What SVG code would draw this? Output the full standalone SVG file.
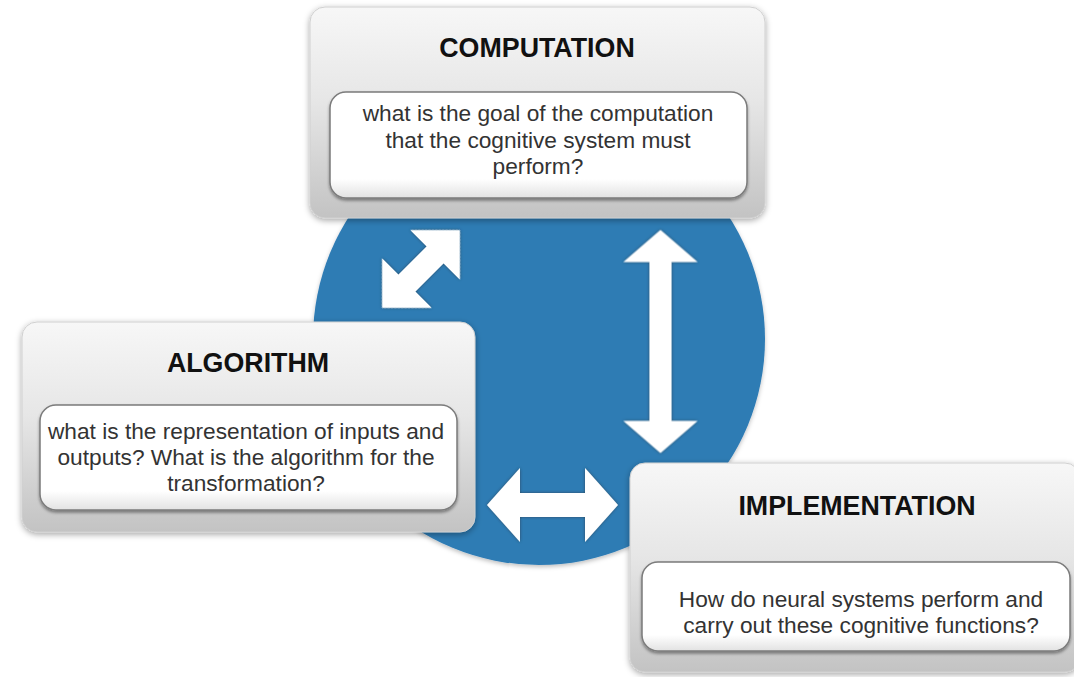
<svg xmlns="http://www.w3.org/2000/svg" width="1074" height="677" viewBox="0 0 1074 677">
  <defs>
    <linearGradient id="panelFill" x1="0" y1="0" x2="0" y2="1">
      <stop offset="0" stop-color="#f7f7f7"/>
      <stop offset="0.45" stop-color="#e6e6e6"/>
      <stop offset="1" stop-color="#c3c3c3"/>
    </linearGradient>
    <linearGradient id="cardFill" x1="0" y1="0" x2="0" y2="1">
      <stop offset="0" stop-color="#ffffff"/>
      <stop offset="0.82" stop-color="#ffffff"/>
      <stop offset="1" stop-color="#e2e2e2"/>
    </linearGradient>
    <filter id="panelShadow" x="-5%" y="-5%" width="110%" height="115%">
      <feDropShadow dx="0" dy="2" stdDeviation="3" flood-color="#000" flood-opacity="0.35"/>
    </filter>
    <filter id="cardShadow" x="-5%" y="-10%" width="110%" height="125%">
      <feDropShadow dx="0" dy="2" stdDeviation="1.5" flood-color="#000" flood-opacity="0.4"/>
    </filter>
    <filter id="arrowEdge" x="-20%" y="-20%" width="140%" height="140%">
      <feDropShadow dx="0" dy="0" stdDeviation="1.6" flood-color="#2a3a48" flood-opacity="0.8"/>
    </filter>
    <filter id="discShadow" x="-5%" y="-5%" width="110%" height="110%">
      <feDropShadow dx="0" dy="2" stdDeviation="2" flood-color="#000" flood-opacity="0.25"/>
    </filter>
    <!-- double-headed arrow along the x axis, centred on the origin -->
    <path id="arrowShort" d="M-55,0 L-20,-35 L-20,-12 L20,-12 L20,-35 L55,0 L20,35 L20,12 L-20,12 L-20,35 Z"/>
    <path id="arrowMid" d="M-65.5,0 L-32.5,-37 L-32.5,-12 L32.5,-12 L32.5,-37 L65.5,0 L32.5,37 L32.5,12 L-32.5,12 L-32.5,37 Z"/>
    <path id="arrowLong" d="M-111.5,0 L-79.5,-37 L-79.5,-11 L79.5,-11 L79.5,-37 L111.5,0 L79.5,37 L79.5,11 L-79.5,11 L-79.5,37 Z"/>
  </defs>
  <style>
    .panel { fill: url(#panelFill); stroke: #d0d0d0; stroke-width: 1; filter: url(#panelShadow); }
    .card { fill: url(#cardFill); stroke: #7b7b7b; stroke-width: 1.5; filter: url(#cardShadow); }
    .title { font-family: "Liberation Sans", Arial, sans-serif; font-weight: bold; font-size: 26.8px; fill: #111; text-anchor: middle; }
    .body { font-family: "Liberation Sans", Arial, sans-serif; font-size: 22.7px; fill: #333; text-anchor: middle; }
    .arrow { fill: #ffffff; filter: url(#arrowEdge); }
  </style>

  <rect width="1074" height="677" fill="#ffffff"/>

  <!-- central disc -->
  <circle id="disc" cx="539" cy="339" r="226" fill="#2e7bb4" filter="url(#discShadow)"/>

  <!-- two-way links between the levels -->
  <g id="connectors">
    <use href="#arrowShort" class="arrow" transform="translate(421 269) rotate(-45)"/>
    <use href="#arrowLong" class="arrow" transform="translate(660.5 341.5) rotate(90)"/>
    <use href="#arrowMid" class="arrow" transform="translate(552.5 505)"/>
  </g>

  <g id="computation">
    <rect class="panel" x="310" y="7" width="455" height="211" rx="15"/>
    <rect class="card" x="330" y="92" width="417" height="106" rx="16"/>
    <text class="title" x="537" y="57">COMPUTATION</text>
    <text class="body" x="538" y="121">what is the goal of the computation</text>
    <text class="body" x="538" y="147.5">that the cognitive system must</text>
    <text class="body" x="538" y="174">perform?</text>
  </g>

  <g id="algorithm">
    <rect class="panel" x="22" y="322" width="453" height="210" rx="15"/>
    <rect class="card" x="40" y="405" width="417" height="105" rx="16"/>
    <text class="title" x="248" y="372">ALGORITHM</text>
    <text class="body" x="246" y="439">what is the representation of inputs and</text>
    <text class="body" x="246" y="465">outputs? What is the algorithm for the</text>
    <text class="body" x="246" y="491">transformation?</text>
  </g>

  <g id="implementation">
    <rect class="panel" x="630" y="463" width="450" height="209" rx="15"/>
    <rect class="card" x="642" y="562" width="428" height="89" rx="16"/>
    <text class="title" x="857" y="515">IMPLEMENTATION</text>
    <text class="body" x="861" y="607">How do neural systems perform and</text>
    <text class="body" x="861" y="633">carry out these cognitive functions?</text>
  </g>
</svg>
